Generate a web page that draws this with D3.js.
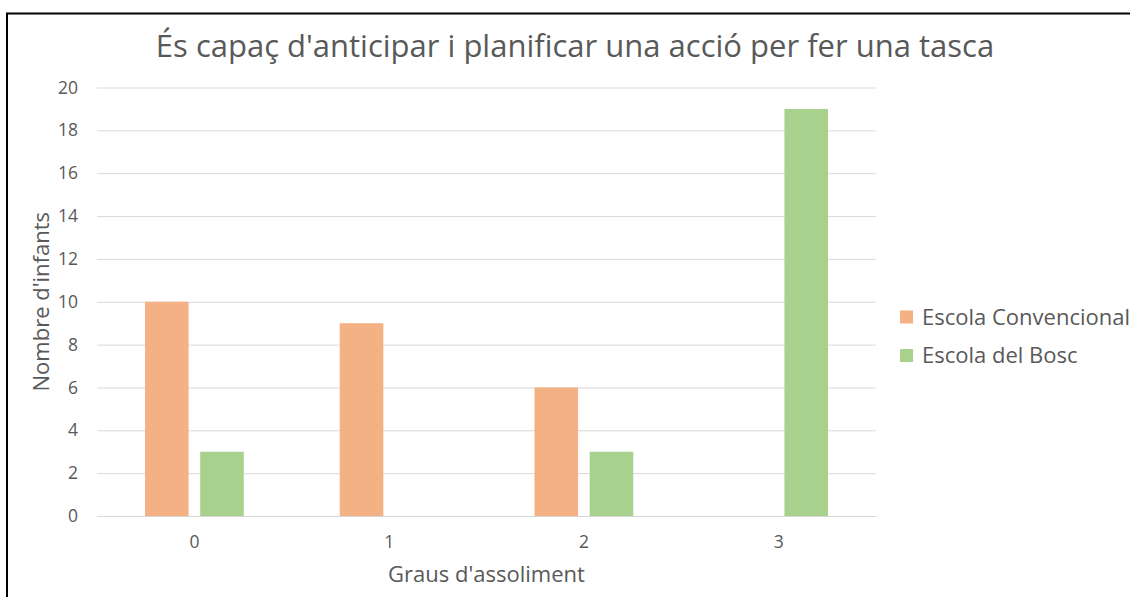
<!DOCTYPE html>
<html><head><meta charset="utf-8">
<script src="https://cdn.jsdelivr.net/npm/d3@7"></script>
<style>
html,body{margin:0;padding:0;background:#fff;}
svg{display:block;}
text{font-family:"Open Sans",sans-serif;fill:#595959;}
</style></head>
<body>
<script>
const categories = ["0","1","2","3"];
const seriesNames = ["Escola Convencional","Escola del Bosc"];
const convencional = [10, 9, 6, 0];
const bosc = [3, 0, 3, 19];
const yTicks = [0,2,4,6,8,10,12,14,16,18,20];
const colors = ["#F4B183","#A9D18E"];
const title = "És capaç d'anticipar i planificar una acció per fer una tasca";
const xTitle = "Graus d'assoliment";
const yTitle = "Nombre d'infants";

const W = 1130, H = 597;
const svg = d3.select("body").append("svg").attr("width", W).attr("height", H);

// border
svg.append("rect").attr("x", 7).attr("y", 13.5).attr("width", W + 20).attr("height", H + 20)
  .attr("fill", "none").attr("stroke", "#000").attr("stroke-width", 2);

const plot = {left: 97, right: 876, top: 87.5, bottom: 516};

const x0 = d3.scaleBand().domain(categories).range([plot.left, plot.right]).paddingInner(0).paddingOuter(0);
const groupPad = 48;
const x1 = d3.scaleBand().domain(seriesNames).range([groupPad, x0.bandwidth() - groupPad]).paddingInner(0.21);
const y = d3.scaleLinear().domain([0, 20]).range([plot.bottom, plot.top]);

// gridlines
const yAxis = d3.axisLeft(y).tickValues(yTicks).tickSize(-(plot.right - plot.left)).tickPadding(19);
const gy = svg.append("g").attr("transform", `translate(${plot.left},0)`).call(yAxis);
gy.select(".domain").remove();
gy.selectAll(".tick line").attr("stroke", "#D9D9D9").attr("stroke-width", 1);
gy.selectAll(".tick text").style("font-size", "17.5px").attr("fill", "#595959");

// bars
const data = categories.map((c, i) => ({cat: c, vals: [
  {s: seriesNames[0], v: convencional[i], c: colors[0]},
  {s: seriesNames[1], v: bosc[i], c: colors[1]}]}));
const groups = svg.append("g").selectAll("g").data(data).join("g")
  .attr("transform", d => `translate(${x0(d.cat)},0)`);
groups.selectAll("rect").data(d => d.vals.filter(e => e.v > 0)).join("rect")
  .attr("x", d => x1(d.s)).attr("width", x1.bandwidth())
  .attr("y", d => y(d.v)).attr("height", d => y(0) - y(d.v))
  .attr("fill", d => d.c);

// x axis
const xAxis = d3.axisBottom(x0).tickSize(0).tickPadding(20);
const gx = svg.append("g").attr("transform", `translate(0,${plot.bottom})`).call(xAxis);
gx.select(".domain").attr("stroke", "#D9D9D9");
gx.selectAll(".tick text").style("font-size", "17.5px").attr("fill", "#595959");

// titles
svg.append("text").attr("x", 575).attr("y", 57).attr("text-anchor", "middle")
  .style("font-size", "31px").text(title);
svg.append("text").attr("x", (plot.left + plot.right) / 2).attr("y", 582).attr("text-anchor", "middle")
  .style("font-size", "22px").text(xTitle);
svg.append("text").attr("transform", `translate(49,${(plot.top + plot.bottom) / 2}) rotate(-90)`)
  .attr("text-anchor", "middle").style("font-size", "22px").text(yTitle);

// legend
const lg = svg.append("g").selectAll("g").data(seriesNames).join("g")
  .attr("transform", (d, i) => `translate(900,${310.5 + i * 38.5})`);
lg.append("rect").attr("width", 13).attr("height", 13).attr("fill", (d, i) => colors[i]);
lg.append("text").attr("x", 22).attr("y", 14).style("font-size", "22px").text(d => d);
</script>
</body></html>
